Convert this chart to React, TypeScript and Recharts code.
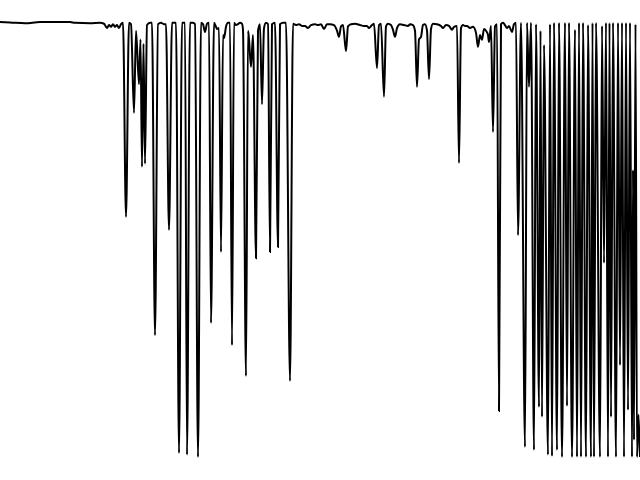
import React from 'react';
import { LineChart, Line, XAxis, YAxis } from 'recharts';

// [position, transmittance %], left to right
const flatRegion: [number, number][] = [
  [0, 100], [10, 99.9], [25, 99.7], [40, 100], [70, 100], [75, 99.8],
  [90, 99.7], [100, 99.8], [104, 99.6],
];

const bandA: [number, number][] = [
  [107, 98.6], [109, 99.3], [111, 98.9], [113, 99.5], [115, 98.9], [117, 99.3],
  [119, 98.6], [121, 99.5], [123, 99.8], [126, 55.2], [129, 99.8], [131, 99.5],
  [134, 79.1], [136, 98], [139, 85.7], [140.5, 96], [142, 66.7], [143.5, 95],
  [145, 67.4], [147, 99.3], [150, 99.8], [152, 99.8], [155, 28.0], [158, 99.5],
  [161, 99.8], [164, 99.5], [166, 99.5], [169, 52.2], [172, 99.8], [176, 99.8],
  [179, 0.9], [182, 99.8], [185, 99.8], [187, 0.5], [190, 99.8], [193, 99.8],
  [195, 99.5], [198, 0], [201, 99.8], [203, 99.5], [205, 97.7], [207, 99.6],
  [209, 99.8], [211, 30.8], [214, 99.8], [216, 98.9], [217, 98.4], [219, 98.6],
  [221, 47.1], [223, 97], [224, 96.3], [226, 98.9], [228, 99.8], [230, 99.8],
  [232, 25.7], [234, 99.8], [236, 99.3], [238, 99.5], [240, 99.8], [242, 99.6],
  [243, 98.2], [246, 18.6], [248, 98], [249, 96], [251, 89.7], [253, 97],
  [256, 45.7], [258, 98], [260, 99.5], [262, 81.1], [264, 98.6], [266, 99.8],
  [268, 99.5], [270, 47.1], [272, 99.5], [275, 99.8], [278, 48.3], [280, 99.5],
  [283, 99.8], [286, 99.8], [290, 17.5], [293, 99.6], [296, 99.3], [299, 99.5],
];

const bandB: [number, number][] = [
  [302, 99.1], [305, 99.1], [308, 98.6], [311, 99.3], [315, 99.5], [318, 99.3],
  [321, 99.5], [324, 98.4], [327, 99.5], [330, 99.5], [334, 99.3], [337, 98],
  [339, 96.6], [341, 99], [343, 99.3], [346, 93.3], [348, 99], [351, 99.5],
  [355, 99.6], [360, 99.3], [364, 99.1], [367, 99.1], [369, 98.6], [372, 99.3],
  [374, 99.6], [377, 89.4], [379, 99.3], [381, 99.6], [384, 82.8], [386, 99],
  [388, 99.6], [391, 99.3], [393, 98.2], [395, 96.6], [397, 98.6], [400, 99.5],
  [404, 99.3], [408, 99.1], [410, 99.5], [413, 99.3], [415, 98], [417, 85.1],
  [419, 96], [421, 96.6], [423, 99.3], [425, 99.5], [427, 98], [429, 86.9],
  [431, 98.4], [433, 99.6], [437, 99.5], [441, 99.1], [443, 98.6], [446, 99.3],
  [449, 99.1], [452, 98.2], [454, 98.9], [457, 99.1], [459, 67.6], [461, 98.6],
  [463, 99.3], [465, 99.1], [467, 99.1], [470, 98.6], [473, 98.9], [476, 97.5],
  [478, 94.3], [480, 97], [482, 95.9], [484, 98.4], [486, 98], [488, 97],
  [489, 95.4], [491, 99.1], [493, 74.7], [495, 99], [497, 99.5], [499, 10.6],
  [501, 99.5], [503, 99.8], [505, 99.3], [507, 98.6], [509, 99.1], [512, 97.7],
];

const denseBand: [number, number][] = [
  [514, 99.5], [516, 99.8], [518, 51.0], [521, 99.8], [525, 2.3], [527, 99.8],
  [529, 85.1], [531, 99.8], [534, 1.6], [536, 99.5], [539, 11.5], [540.5, 98],
  [542, 9.2], [544, 94.7], [548, 0.5], [550, 99.5], [552, 0.2], [554, 99.8],
  [557, 1.6], [559, 99.8], [562, 0], [565, 99.8], [567, 11.7], [569, 99.8],
  [572, 0], [575, 98.2], [577, 0], [579, 99.8], [581, 0], [583, 99.8],
  [586, 0], [588, 99.3], [591, 0], [592.5, 99.8], [594, 0], [596, 99.8],
  [600, 0], [602, 99.1], [604, 44.6], [606, 99.8], [608, 0], [609.5, 99.8],
  [611, 9.2], [613, 99.8], [616, 0], [618, 99.8], [620, 21.1], [622, 99.8],
  [624, 0], [626, 99.8], [628, 10.8], [630, 99.8], [632, 0], [633, 66.0],
  [634, 3.9], [635.5, 99.5], [637, 0], [638.5, 9.7], [640, 0],
];

const data = [...flatRegion, ...bandA, ...bandB, ...denseBand].map(([x, t]) => ({ x, t }));

const App: React.FC = () => {
  return (
    <div style={{ position: 'absolute', top: 0, left: 0, width: 640, height: 480, background: '#fff' }}>
      <LineChart width={640} height={480} data={data} margin={{ top: 22, right: 0, bottom: 23, left: 0 }}>
        <XAxis dataKey="x" type="number" domain={[0, 640]} hide />
        <YAxis domain={[0, 100]} hide />
        <Line
          type="monotone"
          dataKey="t"
          stroke="#000"
          strokeWidth={2}
          dot={false}
          isAnimationActive={false}
        />
      </LineChart>
    </div>
  );
};

export default App;
